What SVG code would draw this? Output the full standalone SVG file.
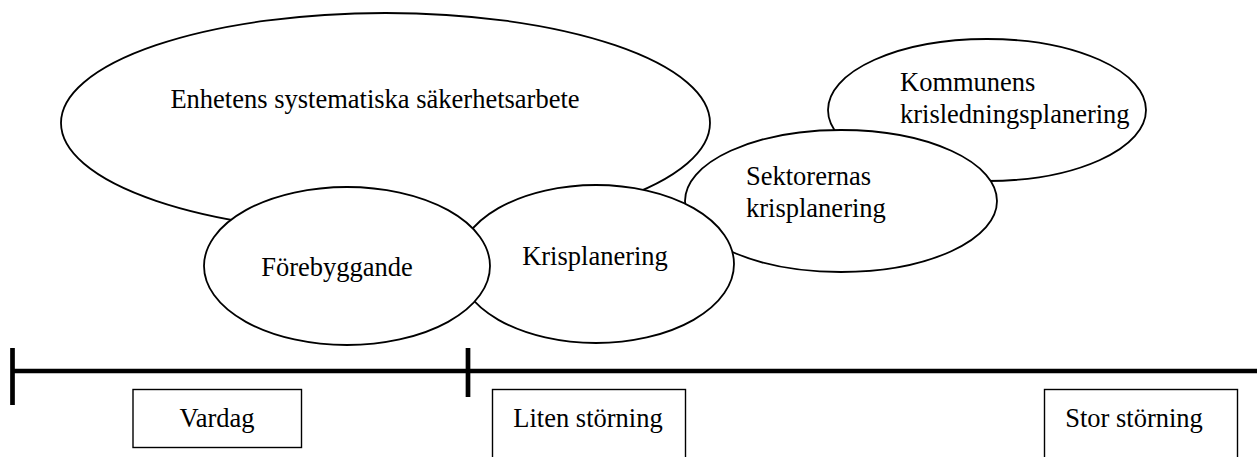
<svg xmlns="http://www.w3.org/2000/svg" width="1257" height="457" viewBox="0 0 1257 457">
<style>
.shape{fill:#fff;stroke:#000;stroke-width:1.8}
.box{fill:#fff;stroke:#000;stroke-width:1.4}
.t{font-family:"Liberation Serif","Times New Roman",serif;font-size:26.5px;fill:#000}
.axis{stroke:#000;stroke-width:4.7;fill:none}
</style>
<g id="enhetens">
<ellipse class="shape" cx="385.5" cy="123" rx="324.5" ry="110"/>
<text class="t" x="375" y="108" text-anchor="middle">Enhetens systematiska säkerhetsarbete</text>
</g>
<g id="kommunens">
<ellipse class="shape" cx="987" cy="110" rx="159" ry="71"/>
<text class="t" x="900" y="91">Kommunens</text>
<text class="t" x="900" y="123">krisledningsplanering</text>
</g>
<g id="sektorernas">
<ellipse class="shape" cx="841" cy="201" rx="156" ry="71"/>
<text class="t" x="746" y="185">Sektorernas</text>
<text class="t" x="746" y="217">krisplanering</text>
</g>
<g id="krisplanering">
<ellipse class="shape" cx="596" cy="264" rx="138" ry="79"/>
<text class="t" x="595" y="265" text-anchor="middle">Krisplanering</text>
</g>
<g id="forebyggande">
<ellipse class="shape" cx="347" cy="266" rx="143" ry="79"/>
<text class="t" x="337" y="276" text-anchor="middle">Förebyggande</text>
</g>
<g id="connectors">
<line class="axis" x1="12" y1="371" x2="1257" y2="371"/>
<line class="axis" x1="12.5" y1="348" x2="12.5" y2="405"/>
<line class="axis" x1="468" y1="348" x2="468" y2="397"/>
</g>
<g id="vardag">
<rect class="box" x="133" y="389.5" width="168.5" height="58"/>
<text class="t" x="217" y="427" text-anchor="middle">Vardag</text>
</g>
<g id="liten">
<rect class="box" x="492.5" y="389.5" width="193" height="80"/>
<text class="t" x="588" y="427" text-anchor="middle">Liten störning</text>
</g>
<g id="stor">
<rect class="box" x="1044.5" y="389.5" width="193" height="80"/>
<text class="t" x="1134" y="427" text-anchor="middle">Stor störning</text>
</g>
</svg>
